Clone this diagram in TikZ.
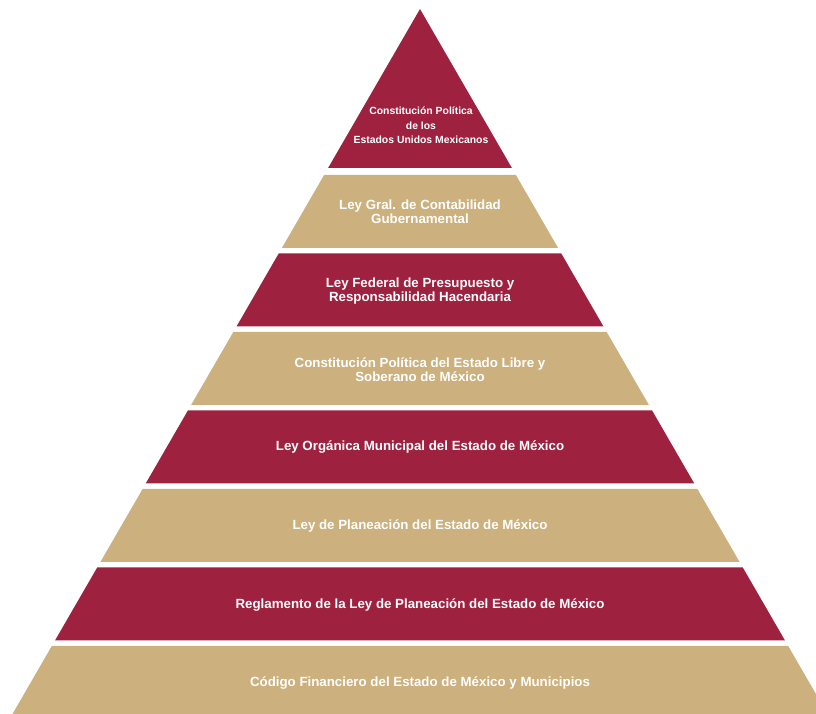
\documentclass[tikz,border=0pt]{standalone}
\usepackage{fontspec}
\setmainfont{Liberation Sans}
\usepackage{tikz}
\definecolor{guinda}{rgb}{0.62,0.13,0.25}
\definecolor{dorado}{rgb}{0.80,0.69,0.49}
\tikzset{
  lawtext/.style={text=white,font=\bfseries\fontsize{13.3bp}{14.5bp}\selectfont,align=center,inner sep=0pt},
  toptext/.style={text=white,font=\bfseries\fontsize{10.4bp}{14.5bp}\selectfont,align=center,inner sep=0pt},
}
\begin{document}
\begin{tikzpicture}[line join=bevel]
  \useasboundingbox (0bp,0bp) rectangle (816bp,714bp);
  \clip (0bp,0bp) rectangle (816bp,714bp);
%%
% Layer: Constitucion federal
\begin{scope}
  \fill[guinda] (420bp,705bp) -- (511.9bp,546bp) -- (328.1bp,546bp) -- cycle;
  \node[toptext] (cpeum) at (421bp,588.5bp) {Constitución Política\\de los\\Estados Unidos Mexicanos};
\end{scope}
% Layer: Contabilidad
\begin{scope}
  \fill[dorado] (324.1bp,539bp) -- (515.9bp,539bp) -- (558.1bp,466bp) -- (281.9bp,466bp) -- cycle;
  \node[lawtext] (lgcg) at (420bp,502bp) {Ley Gral. de Contabilidad\\Gubernamental};
\end{scope}
% Layer: Presupuesto
\begin{scope}
  \fill[guinda] (278.7bp,460.5bp) -- (561.3bp,460.5bp) -- (603.5bp,387.5bp) -- (236.5bp,387.5bp) -- cycle;
  \node[lawtext] (lfprh) at (420bp,423bp) {Ley Federal de Presupuesto y\\Responsabilidad Hacendaria};
\end{scope}
% Layer: Constitucion estatal
\begin{scope}
  \fill[dorado] (233.3bp,382bp) -- (606.7bp,382bp) -- (648.9bp,309bp) -- (191.1bp,309bp) -- cycle;
  \node[lawtext] (cpelsm) at (420bp,344.5bp) {Constitución Política del Estado Libre y\\Soberano de México};
\end{scope}
% Layer: Organica municipal
\begin{scope}
  \fill[guinda] (187.9bp,303.5bp) -- (652.1bp,303.5bp) -- (694.3bp,230.5bp) -- (145.7bp,230.5bp) -- cycle;
  \node[lawtext] (lomem) at (420bp,266.5bp) {Ley Orgánica Municipal del Estado de México};
\end{scope}
% Layer: Planeacion
\begin{scope}
  \fill[dorado] (142.6bp,225bp) -- (697.4bp,225bp) -- (739.6bp,152bp) -- (100.4bp,152bp) -- cycle;
  \node[lawtext] (lpem) at (420bp,187.5bp) {Ley de Planeación del Estado de México};
\end{scope}
% Layer: Reglamento
\begin{scope}
  \fill[guinda] (97.2bp,146.5bp) -- (742.8bp,146.5bp) -- (785bp,73.5bp) -- (55bp,73.5bp) -- cycle;
  \node[lawtext] (rlpem) at (420bp,108.5bp) {Reglamento de la Ley de Planeación del Estado de México};
\end{scope}
% Layer: Codigo financiero
\begin{scope}
  \fill[dorado] (51.8bp,68bp) -- (788.2bp,68bp) -- (830.4bp,-5bp) -- (9.6bp,-5bp) -- cycle;
  \node[lawtext] (cfemm) at (420bp,30.5bp) {Código Financiero del Estado de México y Municipios};
\end{scope}
%
\end{tikzpicture}
\end{document}
